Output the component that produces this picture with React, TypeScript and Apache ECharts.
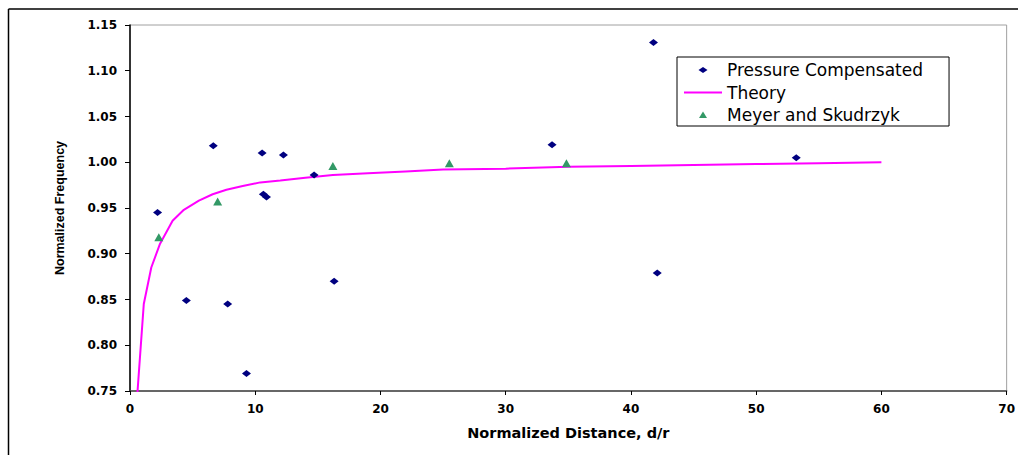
import React, { useEffect, useRef } from "react";
import * as echarts from "echarts";

const pressureCompensated: [number, number][] = [
  [2.2, 0.945], [4.5, 0.849], [6.65, 1.018], [7.8, 0.845], [9.3, 0.769],
  [10.55, 1.01], [10.65, 0.965], [10.9, 0.962], [12.25, 1.008], [14.7, 0.986],
  [16.3, 0.87], [33.7, 1.019], [41.8, 1.131], [42.1, 0.879], [53.2, 1.005],
];

const meyerSkudrzyk: [number, number][] = [
  [2.3, 0.918], [7.0, 0.957], [16.2, 0.996], [25.5, 0.999], [34.85, 0.999],
];

const theory: [number, number][] = [
  [0.55, 0.74], [1.1, 0.845], [1.7, 0.885], [2.4, 0.911], [3.4, 0.936],
  [4.3, 0.948], [5.5, 0.958], [6.6, 0.965], [7.7, 0.97], [9, 0.974],
  [10.4, 0.978], [12, 0.98], [14, 0.983], [16.2, 0.986], [19, 0.988],
  [22, 0.99], [25, 0.992], [30, 0.993], [35, 0.995], [40, 0.996],
  [45, 0.997], [50, 0.998], [55, 0.999], [60, 1.0],
];

const seriesNames = ["Pressure Compensated", "Theory", "Meyer and Skudrzyk"];
const xAxisTitle = "Normalized Distance, d/r";
const yAxisTitle = "Normalized Frequency";

// legend icons drawn inside a 38x10 box (moveTo points fix the bounding box)
const diamondIcon = "path://M0,0 M38,10 M19,2 L23.5,5 L19,8 L14.5,5 Z";
const lineIcon = "path://M0,0 M38,10 M0,4 L38,4 L38,6 L0,6 Z";
const triangleIcon = "path://M0,0 M38,10 M19,1.5 L23,8 L15,8 Z";

export default function App() {
  const ref = useRef<HTMLDivElement>(null);
  useEffect(() => {
    if (!ref.current) return;
    const chart = echarts.init(ref.current, undefined, { renderer: "svg" });
    const tickFont = {
      fontFamily: "DejaVu Sans",
      fontWeight: "bold" as const,
      fontSize: 12,
      color: "#000",
    };
    chart.setOption({
      animation: false,
      backgroundColor: "#fff",
      grid: {
        left: 130,
        top: 25,
        right: 10,
        bottom: 64,
        show: true,
        borderColor: "#a0a0a0",
        borderWidth: 1,
      },
      graphic: [
        { type: "line", shape: { x1: 8.5, y1: 9, x2: 1018, y2: 9 }, style: { stroke: "#000", lineWidth: 1.5 } },
        { type: "line", shape: { x1: 8.5, y1: 9, x2: 8.5, y2: 455 }, style: { stroke: "#000", lineWidth: 1.5 } },
      ],
      legend: {
        orient: "vertical",
        left: 677,
        top: 57,
        padding: [3, 26, 1, 7],
        itemWidth: 38,
        itemHeight: 10,
        itemGap: 2.5,
        borderColor: "#000",
        borderWidth: 1,
        data: [
          { name: seriesNames[0], icon: diamondIcon },
          { name: seriesNames[1], icon: lineIcon },
          { name: seriesNames[2], icon: triangleIcon },
        ],
        textStyle: {
          fontFamily: "DejaVu Sans",
          fontSize: 17,
          color: "#000",
          lineHeight: 20,
        },
      },
      xAxis: {
        type: "value",
        min: 0,
        max: 70,
        interval: 10,
        name: xAxisTitle,
        nameLocation: "middle",
        nameGap: 34,
        nameTextStyle: { ...tickFont, fontSize: 14.5 },
        axisLine: { lineStyle: { color: "#444", width: 1.5 } },
        axisTick: { show: true, length: 4, lineStyle: { color: "#000" } },
        axisLabel: { ...tickFont, margin: 12 },
        splitLine: { show: false },
      },
      yAxis: {
        type: "value",
        min: 0.75,
        max: 1.15,
        interval: 0.05,
        name: yAxisTitle,
        nameLocation: "middle",
        nameGap: 64,
        nameTextStyle: {
          fontFamily: "Liberation Sans Narrow, Liberation Sans",
          fontWeight: "bold",
          fontSize: 12.5,
          color: "#000",
        },
        axisLine: { show: true, lineStyle: { color: "#000", width: 1.5 } },
        axisTick: { show: true, length: 5, lineStyle: { color: "#000" } },
        axisLabel: { ...tickFont, margin: 13, formatter: (v: number) => v.toFixed(2) },
        splitLine: { show: false },
      },
      series: [
        {
          name: seriesNames[0],
          type: "scatter",
          data: pressureCompensated,
          symbol: "diamond",
          symbolSize: [9, 7],
          itemStyle: { color: "#000080", opacity: 1 },
          z: 3,
        },
        {
          name: seriesNames[1],
          type: "line",
          data: theory,
          symbol: "none",
          showSymbol: false,
          lineStyle: { color: "#ff00ff", width: 2 },
          itemStyle: { color: "#ff00ff" },
          clip: true,
          z: 2,
        },
        {
          name: seriesNames[2],
          type: "scatter",
          data: meyerSkudrzyk,
          symbol: "triangle",
          symbolSize: [9, 8],
          itemStyle: { color: "#339966", opacity: 1 },
          z: 3,
        },
      ],
    });
    return () => chart.dispose();
  }, []);
  return (
    <div
      ref={ref}
      style={{ position: "absolute", left: 0, top: 0, width: 1018, height: 455 }}
    />
  );
}
